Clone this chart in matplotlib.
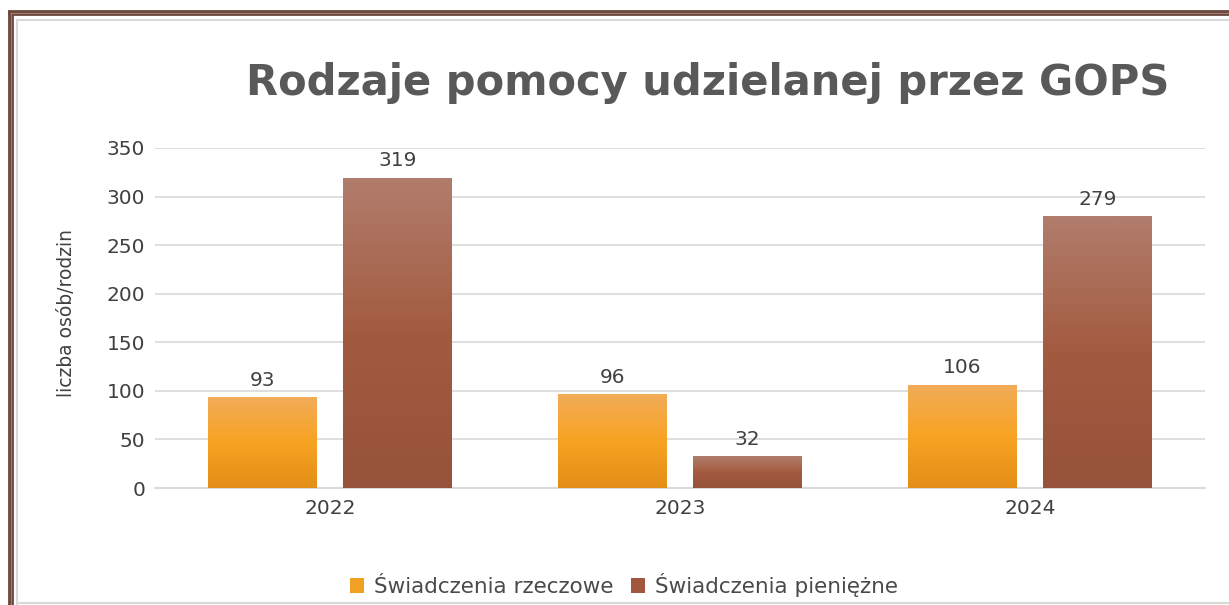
import matplotlib
matplotlib.use("Agg")
import matplotlib.pyplot as plt
import numpy as np
from matplotlib.colors import LinearSegmentedColormap
from matplotlib.patches import Rectangle
from matplotlib.lines import Line2D

years = ["2022", "2023", "2024"]
rzeczowe = [93, 96, 106]
pieniezne = [319, 32, 279]
series_names = ["Świadczenia rzeczowe", "Świadczenia pieniężne"]
title = "Rodzaje pomocy udzielanej przez GOPS"
ylabel = "liczba osób/rodzin"
yticks = [0, 50, 100, 150, 200, 250, 300, 350]

W, H = 1229, 605
fig = plt.figure(figsize=(W / 100, H / 100), dpi=100)
fig.patch.set_facecolor("white")

ax = fig.add_axes([155 / W, 117 / H, (1205 - 155) / W, 340 / H])

orange_cmap = LinearSegmentedColormap.from_list("o", ["#E38E17", "#F7A322", "#F2AC58"])
brown_cmap = LinearSegmentedColormap.from_list("b", ["#96523A", "#A35B40", "#B17D6C"])
grad = np.linspace(0, 1, 256).reshape(-1, 1)

width = 0.311
offset = 0.193
x = np.arange(len(years))
for vals, cmap, off, base in [(rzeczowe, orange_cmap, -offset, "#F5A025"),
                              (pieniezne, brown_cmap, offset, "#A25A40")]:
    bars = ax.bar(x + off, vals, width=width, color=base, zorder=2)
    for b, v in zip(bars, vals):
        x0 = b.get_x()
        ax.imshow(grad, cmap=cmap, origin="lower", aspect="auto",
                  extent=(x0, x0 + b.get_width(), 0, v), zorder=3)
        ax.text(b.get_x() + b.get_width() / 2, v + 8, str(v), ha="center", va="bottom",
                fontsize=14.5, color="#404040", zorder=4)

ax.set_xlim(-0.5, 2.5)
ax.set_ylim(0, 350)
ax.set_yticks(yticks)
ax.set_yticklabels([str(t) for t in yticks])
ax.set_xticks(x)
ax.set_xticklabels(years)
ax.yaxis.grid(True, color="#D9D9D9", linewidth=1.2, zorder=0)
ax.set_axisbelow(True)
for s in ["top", "right", "left"]:
    ax.spines[s].set_visible(False)
ax.spines["bottom"].set_color("#D9D9D9")
ax.spines["bottom"].set_linewidth(1.5)
ax.tick_params(axis="y", length=0, labelsize=14.5, labelcolor="#404040", pad=7)
ax.tick_params(axis="x", length=0, labelsize=14.5, labelcolor="#404040", pad=8)

fig.text(66 / W, 1 - 313 / H, ylabel, rotation=90, ha="center", va="center",
         fontsize=13.5, color="#404040")

fig.text(708 / W, 1 - 83 / H, title, ha="center", va="center", fontsize=30,
         fontweight="bold", color="#595959")

handles = [Rectangle((0, 0), 1, 1, facecolor="#F2A024", edgecolor="none"),
           Rectangle((0, 0), 1, 1, facecolor="#A0573D", edgecolor="none")]
fig.legend(handles, series_names, loc="center", bbox_to_anchor=(624 / W, 1 - 585 / H),
           ncol=2, frameon=False, fontsize=15.5, handlelength=0.65, handleheight=0.65,
           handletextpad=0.45, columnspacing=0.8, labelcolor="#4A4A4A")

# frame
def hline(y, x0, x1, color, lw):
    fig.add_artist(Line2D([x0 / W, x1 / W], [1 - y / H, 1 - y / H], color=color,
                          linewidth=lw, solid_capstyle="butt", transform=fig.transFigure))

def vline(x_, y0, y1, color, lw):
    fig.add_artist(Line2D([x_ / W, x_ / W], [1 - y0 / H, 1 - y1 / H], color=color,
                          linewidth=lw, solid_capstyle="butt", transform=fig.transFigure))

hline(12.5, 8, W, "#6E4A3E", 4.2)
vline(10.5, 10.5, H, "#6E4A3E", 4.2)
hline(12.5, 10, W, "#9C7A70", 0.8)
vline(10.5, 12.5, H, "#9C7A70", 0.8)
hline(20, 16, W, "#D9D9D9", 1.5)
vline(16.5, 20, H, "#D9D9D9", 1.5)
hline(603, 16, W, "#D9D9D9", 1.5)

fig.savefig("out.png", dpi=100, facecolor="white")
